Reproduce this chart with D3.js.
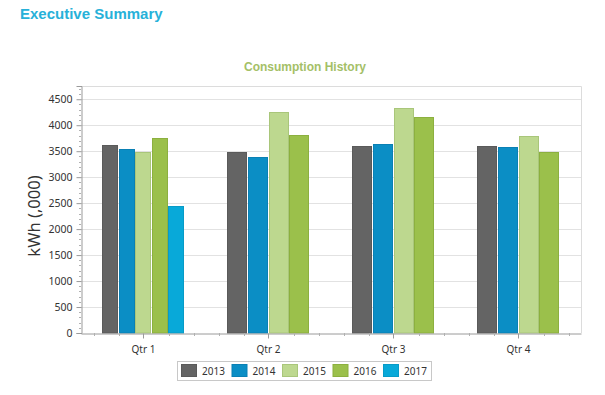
<!DOCTYPE html>
<html>
<head>
<meta charset="utf-8">
<script src="https://cdnjs.cloudflare.com/ajax/libs/d3/7.8.5/d3.min.js"></script>
<style>
  body { margin: 0; background: #fff; }
  svg text { font-family: "Noto Sans", sans-serif; }
</style>
</head>
<body>
<svg id="chart" width="605" height="395"></svg>
<script>
// chart data
var categories = ["Qtr 1", "Qtr 2", "Qtr 3", "Qtr 4"];
var years = ["2013", "2014", "2015", "2016", "2017"];
var v2013 = [3620, 3490, 3600, 3600];
var v2014 = [3550, 3380, 3640, 3580];
var v2015 = [3475, 4250, 4340, 3800];
var v2016 = [3760, 3820, 4160, 3480];
var v2017 = [2450, null, null, null];
var yTicks = [0, 500, 1000, 1500, 2000, 2500, 3000, 3500, 4000, 4500];

var seriesValues = [v2013, v2014, v2015, v2016, v2017];
var colors = ["#646464", "#0b8ec5", "#bdd88f", "#9bc04b", "#08a9d9"];
var strokes = ["#5a5a5a", "#0a80b4", "#a9c67a", "#8cb03f", "#079bc7"];

var svg = d3.select('#chart');
var plotLeft = 81, plotRight = 581, plotTop = 86, plotBottom = 333;

// headings
svg.append('text')
    .attr('x', 20).attr('y', 19)
    .style('font-family', 'Arial, "Liberation Sans", sans-serif')
    .style('font-weight', 'bold').style('font-size', '15px')
    .attr('fill', '#27b1d9')
    .text('Executive Summary');

svg.append('text')
    .attr('x', 305).attr('y', 71).attr('text-anchor', 'middle')
    .style('font-family', 'Arial, "Liberation Sans", sans-serif')
    .style('font-weight', 'bold').style('font-size', '12px')
    .attr('fill', '#a4c067')
    .text('Consumption History');

var y = d3.scaleLinear().domain([0, 4755]).range([plotBottom, plotTop]);
var x0 = d3.scaleBand().domain(categories).range([plotLeft, plotRight]);
var groupW = x0.bandwidth() * 0.66;

// grid
svg.append('g').selectAll('line').data(yTicks.slice(1)).enter().append('line')
    .attr('x1', plotLeft).attr('x2', plotRight)
    .attr('y1', function(d) { return Math.round(y(d)) + 0.5; })
    .attr('y2', function(d) { return Math.round(y(d)) + 0.5; })
    .attr('stroke', '#e2e2e2');

// plot frame (top and right)
svg.append('path')
    .attr('d', 'M' + plotLeft + ',' + (plotTop + 0.5) + 'H' + (plotRight + 0.5) + 'V' + plotBottom)
    .attr('fill', 'none').attr('stroke', '#dcdcdc');

// bars
var bars = [];
categories.forEach(function(c, ci) {
    var present = years.filter(function(yr, si) { return seriesValues[si][ci] != null; });
    var start = x0(c) + (x0.bandwidth() - groupW) / 2;
    var x1 = d3.scaleBand().domain(present).range([start, start + groupW]);
    present.forEach(function(yr) {
        var si = years.indexOf(yr);
        bars.push({ x: x1(yr), w: x1.bandwidth(), v: seriesValues[si][ci], si: si });
    });
});

svg.append('g').selectAll('rect').data(bars).enter().append('rect')
    .attr('x', function(d) { return Math.round(d.x) + 0.5; })
    .attr('y', function(d) { return Math.round(y(d.v)) + 0.5; })
    .attr('width', function(d) { return Math.round(d.w) - 2; })
    .attr('height', function(d) { return plotBottom - Math.round(y(d.v)) - 0.5; })
    .attr('fill', function(d) { return colors[d.si]; })
    .attr('stroke', function(d) { return strokes[d.si]; });

// y axis
var yAxis = d3.axisLeft(y).tickValues(yTicks).tickFormat(d3.format('d')).tickSize(5).tickPadding(4);
var gy = svg.append('g').attr('transform', 'translate(' + (plotLeft + 0.5) + ',0)').call(yAxis);
gy.select('.domain').attr('stroke', '#9a9a9a');
gy.selectAll('.tick line').attr('stroke', '#9a9a9a');
gy.selectAll('.tick text').style('font-size', '10.5px').attr('fill', '#333');

var yMinor = d3.range(100, 4755, 100).filter(function(v) { return v % 500 !== 0; });
svg.append('g').selectAll('line').data(yMinor).enter().append('line')
    .attr('x1', plotLeft - 2).attr('x2', plotLeft)
    .attr('y1', function(d) { return Math.round(y(d)) + 0.5; })
    .attr('y2', function(d) { return Math.round(y(d)) + 0.5; })
    .attr('stroke', '#b0b0b0');

// x axis
var xAxis = d3.axisBottom(x0).tickSize(5).tickPadding(7).tickSizeOuter(0);
var gx = svg.append('g').attr('transform', 'translate(0,' + (plotBottom + 0.5) + ')').call(xAxis);
gx.select('.domain').attr('stroke', '#9a9a9a');
gx.selectAll('.tick line').attr('stroke', '#9a9a9a');
gx.selectAll('.tick text').style('font-size', '10px').attr('fill', '#333');

var xMinor = [];
categories.forEach(function(c) {
    for (var k = 0; k < 5; k++) {
        if (k !== 2) xMinor.push(x0(c) + x0.bandwidth() * (k + 0.5) / 5);
    }
});
svg.append('g').selectAll('line').data(xMinor).enter().append('line')
    .attr('x1', function(d) { return Math.round(d) + 0.5; })
    .attr('x2', function(d) { return Math.round(d) + 0.5; })
    .attr('y1', plotBottom).attr('y2', plotBottom + 3)
    .attr('stroke', '#b0b0b0');

// y axis title
svg.append('text')
    .attr('transform', 'translate(40,216) rotate(-90)')
    .attr('text-anchor', 'middle')
    .style('font-size', '16.5px')
    .attr('fill', '#333')
    .text('kWh (,000)');

// legend
var legend = svg.append('g').attr('transform', 'translate(177,361)');
legend.append('rect')
    .attr('x', 0.5).attr('y', 0.5).attr('width', 254).attr('height', 19)
    .attr('fill', '#fff').attr('stroke', '#c8c8c8');
var items = legend.selectAll('.item').data(years).enter().append('g')
    .attr('class', 'item')
    .attr('transform', function(d, i) { return 'translate(' + (4 + i * 50.5) + ',3)'; });
items.append('rect')
    .attr('x', 0.5).attr('y', 0.5).attr('width', 15).attr('height', 12)
    .attr('fill', function(d, i) { return colors[i]; })
    .attr('stroke', function(d, i) { return strokes[i]; });
items.append('text')
    .attr('x', 21).attr('y', 10.5)
    .style('font-size', '10px').attr('fill', '#333')
    .text(function(d) { return d; });
</script>
</body>
</html>
